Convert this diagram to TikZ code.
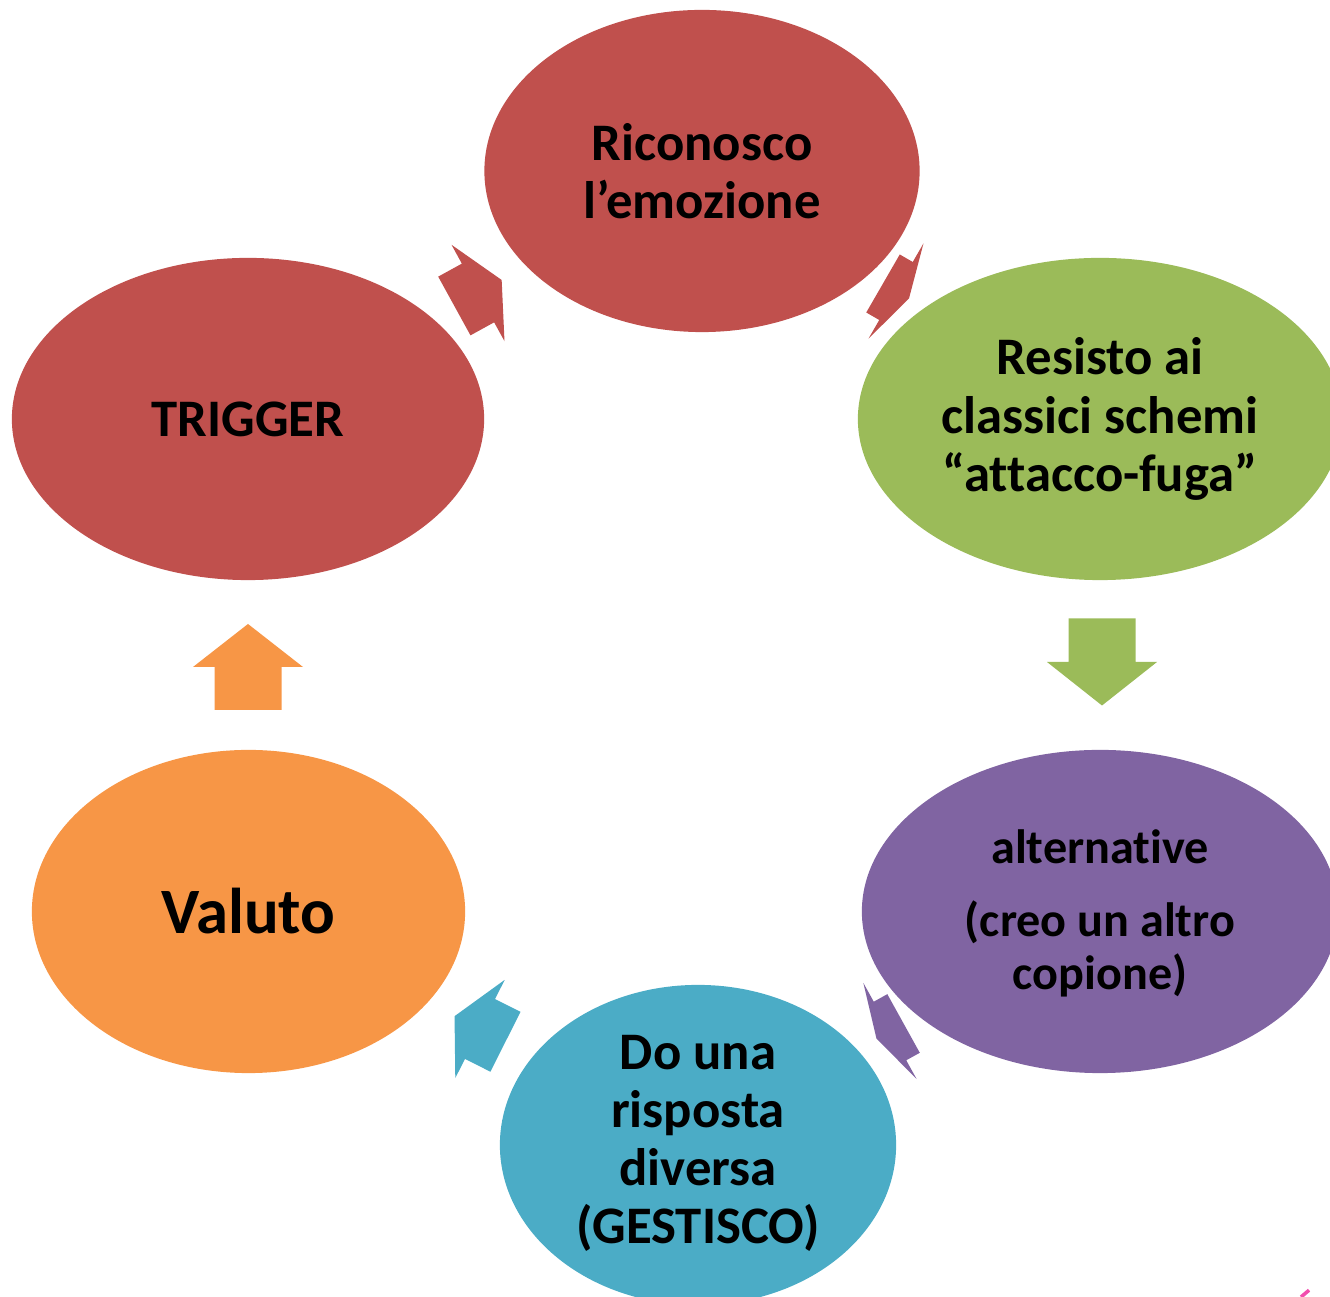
\documentclass[tikz,border=0pt]{standalone}
\usepackage{fontspec}
\setmainfont{Carlito}[Ligatures=NoCommon]
\usepackage{tikz}
\usetikzlibrary{shapes.geometric}
\definecolor{cycred}{HTML}{C0504D}
\definecolor{cycgreen}{HTML}{9BBB59}
\definecolor{cycpurple}{HTML}{8064A2}
\definecolor{cycblue}{HTML}{4BACC6}
\definecolor{cycorange}{HTML}{F79646}
% block arrow: centre x, centre y, angle, length, colour
\newcommand{\blockarrow}[5]{%
  \fill[#5,shift={(#1,#2)},rotate=#3]
    (-#4/2,-33.5) -- (0,-33.5) -- (0,-55) -- (#4/2,0) -- (0,55) -- (0,33.5) -- (-#4/2,33.5) -- cycle;}

\begin{document}
\begin{tikzpicture}[x=0.01cm,y=0.01cm,
  bubble/.style={ellipse,inner sep=0pt,draw=none},
  bubbletext/.style={font=\bfseries\fontsize{15}{16.5}\selectfont,align=center,text=black}]
\useasboundingbox (0,0) rectangle (1330,1297);
\clip (0,0) rectangle (1330,1297);
% the six steps
\node at (702,1126) [bubble,fill=cycred,minimum width=4.35cm,minimum height=3.22cm] (Recog) {};
\node at (1100,878) [bubble,fill=cycgreen,minimum width=4.84cm,minimum height=3.22cm] (Resist) {};
\node at (1100,385.5) [bubble,fill=cycpurple,minimum width=4.76cm,minimum height=3.23cm] (Altern) {};
\node at (698,152) [bubble,fill=cycblue,minimum width=3.96cm,minimum height=3.2cm] (Respond) {};
\node at (248.5,385.5) [bubble,fill=cycorange,minimum width=4.33cm,minimum height=3.23cm] (Evaluate) {};
\node at (248,878) [bubble,fill=cycred,minimum width=4.72cm,minimum height=3.22cm] (Trigger) {};
% texts
\node [bubbletext] at (Recog) (RecogText) {Riconosco\\l’emozione};
\node [bubbletext] at (Resist) (ResistText) {Resisto ai\\classici schemi\\“attacco-fuga”};
\node [bubbletext,font=\bfseries\fontsize{13.7}{15.1}\selectfont] at ([yshift=-.02cm]Altern) (AlternText) {alternative\\[5.5pt](creo un altro\\copione)};
\node [bubbletext] at ([yshift=.02cm]Respond) (RespondText) {Do una\\risposta\\diversa\\(GESTISCO)};
\node [bubbletext,font=\bfseries\fontsize{18.4}{20}\selectfont] at (Evaluate) (EvaluateText) {Valuto};
\node [bubbletext] at (Trigger) (TriggerText) {TRIGGER};
% arrows between the steps
\blockarrow{478}{1004}{28.8}{54}{cycred}
\blockarrow{896}{1006}{-30}{30}{cycred}
\blockarrow{1102}{635}{-90}{87}{cycgreen}
\blockarrow{890}{266}{209}{31}{cycpurple}
\blockarrow{480}{268}{153.3}{57}{cycblue}
\blockarrow{248}{630}{90}{86}{cycorange}
\draw [magenta!70,dashed,line width=1pt] (1301,0) -- (1314,11);
\end{tikzpicture}
\end{document}
